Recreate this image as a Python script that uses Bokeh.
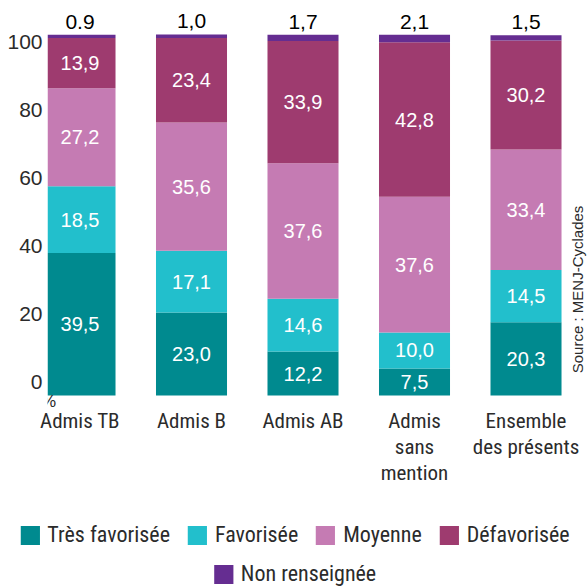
from bokeh.plotting import figure
from bokeh.models import (ColumnDataSource, Range1d, LinearAxis, FixedTicker,
                          Legend, LegendItem, Label)
from bokeh.core.properties import value
from bokeh.embed import file_html
from bokeh.resources import INLINE
import math

categories = ["Admis TB", "Admis B", "Admis AB", "Admis\nsans\nmention", "Ensemble\ndes présents"]
tres_favorisee = [39.5, 23.0, 12.2, 7.5, 20.3]
favorisee = [18.5, 17.1, 14.6, 10.0, 14.5]
moyenne = [27.2, 35.6, 37.6, 37.6, 33.4]
defavorisee = [13.9, 23.4, 33.9, 42.8, 30.2]
non_renseignee = [0.9, 1.0, 1.7, 2.1, 1.5]
top_labels = ["0.9", "1,0", "1,7", "2,1", "1,5"]
series_names = ["Très favorisée", "Favorisée", "Moyenne", "Défavorisée", "Non renseignée"]
y_ticks = [0, 20, 40, 60, 80, 100]

colors = ["#008A8F", "#22BFCC", "#C57BB3", "#9E3B6F", "#652D91"]
NARROW = "Roboto Condensed"
SANS = "Liberation Sans"
TXT = "#2b2b2b"

xs = list(range(len(categories)))
keys = ["tf", "f", "m", "d", "nr"]
source = ColumnDataSource(dict(x=xs, tf=tres_favorisee, f=favorisee, m=moyenne,
                               d=defavorisee, nr=non_renseignee))

p = figure(width=587, height=500, x_range=Range1d(-0.2915, 4.5515), y_range=Range1d(-3.6, 109.5),
           output_backend="svg", toolbar_location=None, y_axis_location=None,
           x_axis_location="below", min_border_left=47, min_border_right=0,
           min_border_top=0, min_border_bottom=92)
p.outline_line_color = None
p.grid.visible = False
p.background_fill_color = "white"

renderers = p.vbar_stack(keys, x="x", width=0.637, color=colors, line_color=None, source=source)

# segment value labels (white)
lx, ly, lt = [], [], []
for i in xs:
    base = 0.0
    for arr in [tres_favorisee, favorisee, moyenne, defavorisee]:
        v = arr[i]
        lx.append(i)
        ly.append(base + v / 2)
        lt.append(f"{v:.1f}".replace(".", ","))
        base += v
p.text(x=lx, y=ly, text=lt, text_align="center", text_baseline="middle",
       text_color="white", text_font=value(SANS), text_font_size="20px")

# top labels (non renseignée)
totals = [a + b + c + d + e for a, b, c, d, e in
          zip(tres_favorisee, favorisee, moyenne, defavorisee, non_renseignee)]
p.text(x=xs, y=totals, text=top_labels, text_align="center", text_baseline="middle",
       y_offset=-13, text_color="black", text_font=value(SANS), text_font_size="21px")

# x axis
xa = p.xaxis[0]
xa.ticker = FixedTicker(ticks=xs)
xa.major_label_overrides = {i: c for i, c in zip(xs, categories)}
xa.axis_line_color = None
xa.major_tick_line_color = None
xa.minor_tick_line_color = None
xa.major_tick_out = 0
xa.major_label_text_font = NARROW
xa.major_label_text_font_size = "21px"
xa.major_label_text_line_height = 1.1
xa.major_label_text_color = TXT
xa.major_label_standoff = 0

# y axis (labels)
p.extra_y_ranges = {"ticks": Range1d(-7.82, 112.26)}
ya = LinearAxis(y_range_name="ticks", ticker=FixedTicker(ticks=y_ticks))
ya.axis_line_color = None
ya.major_tick_line_color = None
ya.minor_tick_line_color = None
ya.major_tick_out = 0
ya.major_label_text_font = SANS
ya.major_label_text_font_size = "21px"
ya.major_label_text_color = TXT
ya.major_label_standoff = 5
p.add_layout(ya, "left")

# percent sign
p.add_layout(Label(x=-0.2825, y=-1.6, text="%", text_align="center", text_baseline="middle",
                   text_font=SANS, text_font_size="17px", text_color=TXT))

# source
p.add_layout(Label(x=4.462, y=29.4, text="Source : MENJ-Cyclades", angle=math.pi / 2,
                   text_align="center", text_baseline="middle",
                   text_font=SANS, text_font_size="15px", text_color=TXT))

# legend figure (separate root; swatches use off-frame proxy renderers)
p2 = figure(width=587, height=86, x_range=Range1d(0, 1), y_range=Range1d(0, 1),
            output_backend="svg", toolbar_location=None, x_axis_location=None,
            y_axis_location=None, min_border_left=0, min_border_right=0,
            min_border_top=0, min_border_bottom=0)
p2.outline_line_color = None
p2.grid.visible = False
proxies = [p2.vbar(x=[5], top=[1], width=0.1, fill_color=c, line_color=None) for c in colors]


def make_legend(idx, loc, margin):
    return Legend(items=[LegendItem(label=series_names[k], renderers=[proxies[k]]) for k in idx],
                  location=loc, orientation="horizontal", padding=0, margin=margin, spacing=15,
                  label_standoff=6, glyph_width=24, glyph_height=24, label_height=24,
                  label_text_font=NARROW, label_text_font_size="22px",
                  label_text_color=TXT, border_line_color=None,
                  background_fill_alpha=0, label_text_baseline="middle")


p2.add_layout(make_legend([0, 1, 2, 3], "top_center", 22))
p2.add_layout(make_legend([4], "bottom_center", 0))

open("out.html", "w").write(file_html([p, p2], INLINE))
